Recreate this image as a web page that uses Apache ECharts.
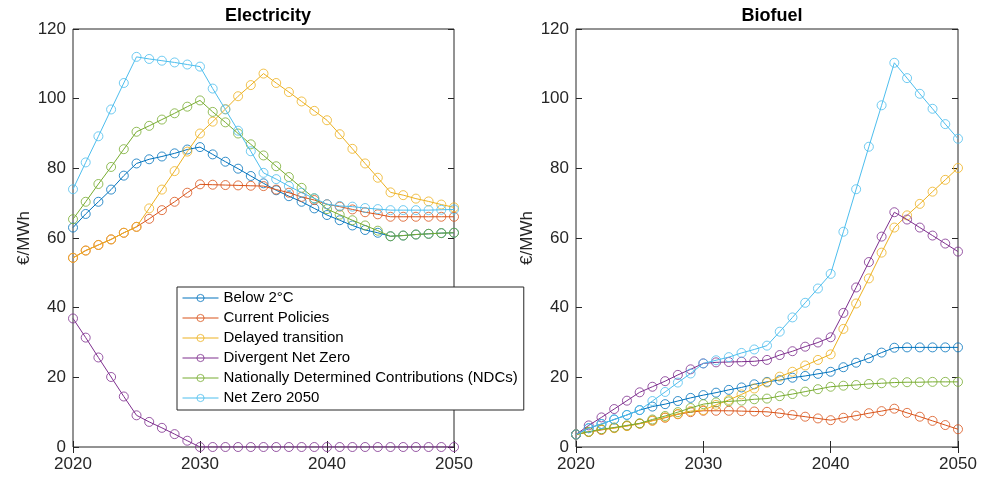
<!DOCTYPE html>
<html><head><meta charset="utf-8">
<script src="https://cdn.jsdelivr.net/npm/echarts@6/dist/echarts.min.js"></script>
<style>html,body{margin:0;padding:0;background:#fff}#c{width:981px;height:481px}</style>
</head><body><div id="c"></div>
<script>
const years = [];
for (let y = 2020; y <= 2050; y++) years.push(y);
const scenarioNames = ["Below 2°C","Current Policies","Delayed transition","Divergent Net Zero","Nationally Determined Contributions (NDCs)","Net Zero 2050"];
const colors = ["#0072BD","#D95319","#EDB120","#7E2F8E","#77AC30","#4DBEEE"];
const xTicks = [2020, 2030, 2040, 2050];
const yTicks = [0, 20, 40, 60, 80, 100, 120];

// Electricity (€/MWh)
const elecBelow2 = [63.0,66.9,70.4,73.9,77.9,81.4,82.6,83.4,84.3,85.4,86.1,84.0,81.9,79.9,77.8,75.7,73.7,72.0,70.4,68.5,66.6,65.1,63.6,62.3,61.5,60.5,60.7,61.0,61.2,61.4,61.5];
const elecCurrent = [54.3,56.4,58.0,59.6,61.5,63.2,65.5,68.0,70.4,73.0,75.4,75.3,75.2,75.1,75.0,74.9,73.9,73.0,71.8,70.9,69.7,69.0,68.2,67.4,66.8,66.1,66.1,66.1,66.1,66.1,66.1];
const elecDelayed = [54.3,56.4,58.0,59.6,61.5,63.2,68.5,73.9,79.2,84.8,90.0,93.4,97.0,100.7,103.9,107.2,104.5,101.9,99.2,96.5,93.8,89.8,85.6,81.4,77.3,73.1,72.3,71.3,70.5,69.6,68.8];
const elecDivergent = [36.9,31.4,25.7,20.1,14.5,9.1,7.2,5.5,3.7,1.8,0,0,0,0,0,0,0,0,0,0,0,0,0,0,0,0,0,0,0,0,0];
const elecNDC = [65.4,70.4,75.5,80.4,85.5,90.5,92.2,94.0,95.8,97.7,99.5,96.2,93.2,90.0,86.9,83.7,80.6,77.5,74.4,71.4,68.3,66.7,65.1,63.6,62.1,60.5,60.7,61.0,61.2,61.4,61.5];
const elecNZ = [74.0,81.7,89.2,96.9,104.5,112.0,111.4,110.9,110.4,109.8,109.2,102.9,96.9,90.8,84.9,78.7,76.9,74.9,73.0,71.4,69.7,69.2,69.0,68.6,68.3,68.0,68.0,68.0,68.0,68.1,68.2];

// Biofuel (€/MWh)
const bioBelow2 = [3.6,5.4,6.6,7.9,9.2,10.6,11.6,12.3,13.2,14.1,14.9,15.6,16.4,17.1,18.0,18.7,19.2,19.9,20.4,21.0,21.6,22.9,24.2,25.5,27.1,28.5,28.6,28.6,28.6,28.6,28.6];
const bioCurrent = [3.6,4.3,4.9,5.5,6.1,6.7,7.6,8.4,9.4,10.0,10.4,10.4,10.4,10.3,10.2,10.1,9.7,9.2,8.7,8.2,7.7,8.4,9.0,9.7,10.3,11.0,9.8,8.7,7.5,6.3,5.1];
const bioDelayed = [3.6,4.3,5.0,5.4,6.0,6.7,7.5,8.5,9.5,10.3,10.6,12.1,13.5,15.1,16.8,18.5,20.2,21.6,23.4,25.0,26.6,33.9,41.2,48.4,55.8,63.0,66.5,69.8,73.3,76.7,80.1];
const bioDivergent = [3.6,6.2,8.5,10.9,13.3,15.7,17.3,18.9,20.7,22.3,24.0,24.3,24.4,24.5,24.6,25.0,26.4,27.5,28.8,30.0,31.5,38.5,45.8,53.1,60.4,67.4,65.3,63.0,60.7,58.4,56.1];
const bioNDC = [3.6,4.4,5.1,5.6,6.2,6.8,7.9,8.9,10.0,11.2,12.3,12.8,13.1,13.3,13.7,13.9,14.6,15.2,15.9,16.6,17.3,17.6,17.8,18.1,18.3,18.5,18.6,18.6,18.7,18.7,18.7];
const bioNZ = [3.6,5.4,6.6,7.9,9.2,10.6,13.2,15.8,18.5,21.1,24.0,24.9,25.8,27.0,28.0,29.1,33.1,37.2,41.4,45.5,49.7,61.8,74.0,86.2,98.1,110.3,105.9,101.4,97.1,92.7,88.5];

const elecSets = [elecBelow2, elecCurrent, elecDelayed, elecDivergent, elecNDC, elecNZ];
const bioSets = [bioBelow2, bioCurrent, bioDelayed, bioDivergent, bioNDC, bioNZ];

const FONT = "Liberation Sans, Arial, Helvetica, sans-serif";
const textColor = "#262626";
const grids = [
  {left:73, top:29, width:381, height:418, show:true, borderColor:"#262626", borderWidth:1, backgroundColor:"transparent"},
  {left:576, top:29, width:382, height:418, show:true, borderColor:"#262626", borderWidth:1, backgroundColor:"transparent"}
];
function xAx(g, pos){
  return {type:'value', gridIndex:g, position:pos, min:2020, max:2050, interval:10,
    axisLine:{show:false}, axisTick:{show:true, inside:true, length:6, lineStyle:{color:"#262626"}},
    axisLabel:{show:pos==='bottom', color:textColor, fontSize:17, fontFamily:FONT, margin:9, formatter:v=>String(v)},
    splitLine:{show:false}};
}
function yAx(g, pos){
  return {type:'value', gridIndex:g, position:pos, min:0, max:120, interval:20,
    name: pos==='left' ? '€/MWh' : '', nameLocation:'middle', nameGap:40, nameRotate:90,
    nameTextStyle:{color:textColor, fontSize:17, fontFamily:FONT},
    axisLine:{show:false}, axisTick:{show:true, inside:true, length:6, lineStyle:{color:"#262626"}},
    axisLabel:{show:pos==='left', color:textColor, fontSize:17, fontFamily:FONT, margin:7},
    splitLine:{show:false}};
}
const xAxes = [xAx(0,'bottom'), xAx(0,'top'), xAx(1,'bottom'), xAx(1,'top')];
const yAxes = [yAx(0,'left'), yAx(0,'right'), yAx(1,'left'), yAx(1,'right')];

const series = [];
function addSeries(sets, xi, yi){
  sets.forEach((vals, i) => {
    series.push({
      name: scenarioNames[i], type:'line', xAxisIndex:xi, yAxisIndex:yi,
      data: years.map((y, k) => [y, vals[k]]),
      symbol:'circle', symbolSize:9, showAllSymbol:true,
      lineStyle:{width:1, color:colors[i]},
      itemStyle:{color:'rgba(255,255,255,0)', borderColor:colors[i], borderWidth:0.8},
      emphasis:{disabled:true}, animation:false, z: 2+i
    });
  });
}
addSeries(elecSets, 0, 0);
addSeries(bioSets, 2, 2);

const chart = echarts.init(document.getElementById('c'), null, {renderer:'canvas'});
chart.setOption({
  animation:false,
  backgroundColor:'#fff',
  color: colors,
  title:[
    {text:'Electricity', left:263, top:2, textAlign:'center', textStyle:{fontSize:18, fontWeight:'bold', color:'#000', fontFamily:FONT}},
    {text:'Biofuel', left:767, top:2, textAlign:'center', textStyle:{fontSize:18, fontWeight:'bold', color:'#000', fontFamily:FONT}}
  ],
  grid: grids,
  xAxis: xAxes,
  yAxis: yAxes,
  legend:{
    data: scenarioNames,
    orient:'vertical', left:177, top:287,
    padding:[3,6,4,5], itemGap:4, itemWidth:36, itemHeight:9,
    lineStyle:{width:1}, itemStyle:{borderWidth:0.8},
    backgroundColor:'#fff', borderColor:'#262626', borderWidth:1, borderRadius:0,
    selectedMode:false,
    textStyle:{fontSize:15, lineHeight:16, color:'#000', fontFamily:FONT}
  },
  series: series
});
</script></body></html>
